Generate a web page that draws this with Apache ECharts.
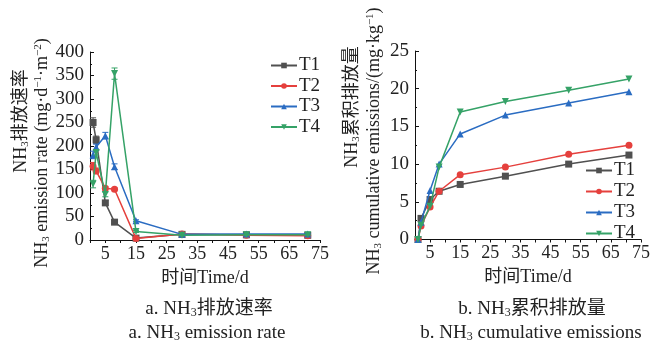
<!DOCTYPE html>
<html><head><meta charset="utf-8">
<script src="https://cdn.jsdelivr.net/npm/echarts@6/dist/echarts.min.js"></script>
<style>html,body{margin:0;padding:0;background:#fff}#c{width:653px;height:346px}</style>
</head><body><div id="c"></div>
<script>
const seriesNames = ['T1', 'T2', 'T3', 'T4'];
const rateDays = [1, 2, 5, 8, 15, 30, 51, 71];
const rateT1 = [250, 213, 79, 38, 4, 12, 11, 10];
const rateT2 = [157, 147, 110, 108, 3, 13, 10, 9];
const rateT3 = [181, 198, 222, 156, 41, 12, 13, 13];
const rateT4 = [119, 186, 97, 354, 18, 10, 11, 11];
const errT1 = [10, 8, 5, 3, 1, 1, 1, 1];
const errT2 = [8, 6, 4, 3, 1, 1, 1, 1];
const errT3 = [8, 6, 7, 6, 2, 1, 1, 1];
const errT4 = [8, 5, 5, 12, 2, 1, 1, 1];
const cumDays = [1, 2, 5, 8, 15, 30, 51, 71];
const cumT1 = [0, 2.8, 5.3, 6.4, 7.3, 8.4, 10.0, 11.2];
const cumT2 = [0, 1.8, 4.3, 6.4, 8.6, 9.6, 11.3, 12.5];
const cumT3 = [0, 2.3, 6.5, 10.0, 14.0, 16.5, 18.1, 19.6];
const cumT4 = [0, 1.9, 4.4, 9.6, 16.9, 18.3, 19.8, 21.3];
const xTickLabels = [5, 15, 25, 35, 45, 55, 65, 75];

const colors = ['#505050', '#e5403d', '#2a6cc2', '#35a267'];
const symbols = ['rect', 'circle', 'triangle', 'triangle'];
const rots = [0, 0, 0, 180];
const FONT = '"Liberation Serif","Noto Sans CJK SC",serif';

const rates = [rateT1, rateT2, rateT3, rateT4];
const errs = [errT1, errT2, errT3, errT4];
const cums = [cumT1, cumT2, cumT3, cumT4];

function xAxisCfg(gi) {
  return {
    gridIndex: gi, type: 'value', min: 0, max: 75, interval: 5,
    axisLine: { show: true, lineStyle: { color: '#111', width: 1 } },
    axisTick: { show: true, inside: false, length: 3, lineStyle: { color: '#111' } },
    minorTick: { show: false },
    splitLine: { show: false },
    axisLabel: { color: '#222', fontFamily: FONT, fontSize: 18, margin: 5,
      formatter: v => (xTickLabels.indexOf(v) >= 0 ? String(v) : '') },
    name: '时间Time/d', nameLocation: 'middle', nameGap: 29,
    nameTextStyle: { color: '#222', fontFamily: FONT, fontSize: 18 }
  };
}
function yAxisCfg(gi, max, interval) {
  return {
    gridIndex: gi, type: 'value', min: 0, max: max, interval: interval,
    axisLine: { show: true, lineStyle: { color: '#111', width: 1 } },
    axisTick: { show: true, inside: true, length: 4, lineStyle: { color: '#111' } },
    minorTick: { show: true, splitNumber: 2, length: 2, lineStyle: { color: '#111' } },
    splitLine: { show: false },
    axisLabel: { color: '#222', fontFamily: FONT, fontSize: 19, margin: 6 }
  };
}

const series = [];
seriesNames.forEach((n, i) => {
  series.push({
    name: n, type: 'line', xAxisIndex: 0, yAxisIndex: 0,
    data: rateDays.map((d, k) => [d, rates[i][k]]),
    symbol: symbols[i], symbolRotate: rots[i], symbolSize: 7,
    lineStyle: { color: colors[i], width: 1.5 }, itemStyle: { color: colors[i] }, z: 3 + i
  });
  series.push({
    type: 'custom', xAxisIndex: 0, yAxisIndex: 0, z: 3 + i,
    data: rateDays.map((d, k) => [d, rates[i][k] - errs[i][k], rates[i][k] + errs[i][k]]),
    renderItem: (params, api) => {
      const lo = api.coord([api.value(0), api.value(1)]);
      const hi = api.coord([api.value(0), api.value(2)]);
      const w = 3;
      const st = { stroke: colors[i], lineWidth: 1 };
      return { type: 'group', children: [
        { type: 'line', shape: { x1: lo[0], y1: lo[1], x2: hi[0], y2: hi[1] }, style: st },
        { type: 'line', shape: { x1: lo[0] - w, y1: lo[1], x2: lo[0] + w, y2: lo[1] }, style: st },
        { type: 'line', shape: { x1: hi[0] - w, y1: hi[1], x2: hi[0] + w, y2: hi[1] }, style: st }
      ] };
    }
  });
});
seriesNames.forEach((n, i) => {
  series.push({
    name: n, type: 'line', xAxisIndex: 1, yAxisIndex: 1,
    data: cumDays.map((d, k) => [d, cums[i][k]]),
    symbol: symbols[i], symbolRotate: rots[i], symbolSize: 7,
    lineStyle: { color: colors[i], width: 1.5 }, itemStyle: { color: colors[i] }, z: 3 + i
  });
});

const subV = (fs) => ({ fontFamily: FONT, fontSize: Math.round(fs * 0.62), color: '#222', padding: [8, 0, 0, 0], lineHeight: 20 });
const sup = (fs) => ({ fontFamily: FONT, fontSize: Math.round(fs * 0.62), color: '#222', padding: [0, 0, 7, 0], lineHeight: 20 });
const base = (fs) => ({ fontFamily: FONT, fontSize: fs, color: '#222', lineHeight: 20 });

function txt(x, y, text, fs, rot) {
  return {
    type: 'text', x: x, y: y, rotation: rot || 0,
    style: {
      text: text, align: 'center', verticalAlign: 'middle',
      font: fs + 'px ' + FONT, fill: '#222',
      rich: { b: base(fs), s: subV(fs), p: sup(fs) }
    }
  };
}

const legendText = { fontFamily: FONT, fontSize: 19, color: '#222', padding: [0, 0, 0, -3] };
const option = {
  animation: false,
  backgroundColor: '#fff',
  grid: [
    { left: 90, top: 52, width: 230, height: 188 },
    { left: 415, top: 51, width: 228, height: 188.5 }
  ],
  xAxis: [xAxisCfg(0), xAxisCfg(1)],
  yAxis: [yAxisCfg(0, 400, 50), yAxisCfg(1, 25, 5)],
  legend: [
    { data: seriesNames, orient: 'vertical', left: 265, top: 51, itemWidth: 26, itemHeight: 7, itemGap: 1.5,
      textStyle: legendText, selectedMode: false },
    { data: seriesNames, orient: 'vertical', left: 580, top: 156, itemWidth: 26, itemHeight: 7, itemGap: 2,
      textStyle: legendText, selectedMode: false }
  ],
  graphic: [
    txt(21, 121, '{b|NH}{s|3}{b|排放速率}', 18, Math.PI / 2),
    txt(42, 153, '{b|NH}{s|3}{b| emission rate (mg·d}{p|−1}{b|·m}{p|−2}{b|)}', 18, Math.PI / 2),
    txt(352, 107, '{b|NH}{s|3}{b|累积排放量}', 18, Math.PI / 2),
    txt(374, 141, '{b|NH}{s|3}{b| cumulative emissions/(mg·kg}{p|−1}{b|)}', 18, Math.PI / 2),
    txt(209, 309, '{b|a. NH}{s|3}{b|排放速率}', 19),
    txt(207, 333, '{b|a. NH}{s|3}{b| emission rate}', 19),
    txt(532, 309, '{b|b. NH}{s|3}{b|累积排放量}', 19),
    txt(531, 333, '{b|b. NH}{s|3}{b| cumulative emissions}', 19)
  ],
  series: series
};
const chart = echarts.init(document.getElementById('c'), null, { renderer: 'canvas' });
chart.setOption(option);
</script></body></html>
